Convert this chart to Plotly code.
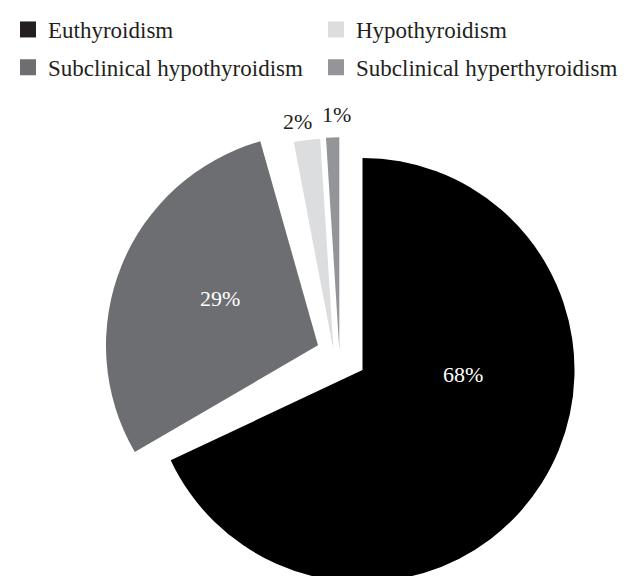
import plotly.graph_objects as go

# ---- data ----
LABELS = ["Euthyroidism", "Subclinical hypothyroidism", "Hypothyroidism", "Subclinical hyperthyroidism"]
VALUES = [68, 29, 2, 1]
COLORS = ["#000000", "#6d6e71", "#dcdddf", "#939598"]
LEGEND_ORDER = ["Euthyroidism", "Hypothyroidism", "Subclinical hypothyroidism", "Subclinical hyperthyroidism"]
LEGEND_COLORS = ["#231f20", "#dcdddf", "#6d6e71", "#939598"]

# ---- layout / style ----
W, H = 630, 576
OFF = 8  # page body margin: screen px = figure px + OFF
FONT = "Liberation Serif"
TXT = "#231f20"
# exploded slice placement in screen px: (vertex x, vertex y, radius, rotation deg)
SLICE_GEOM = [
    (362.5, 367.0, 215, 0),
    (318.0, 342.0, 215, -5),
    (333.5, 347.0, 215, 0),
    (339.3, 346.0, 215, 0),
]
# label placement (screen px) and colour per slice
LABEL_POS = [(462.7, 372.0), (220.0, 294.0), (297.5, 115.0), (336.0, 107.5)]
LABEL_COL = ["#ffffff", "#ffffff", TXT, TXT]
# legend entry placement in screen px: (legend left x, centre y)
LEGEND_POS = [(0, 21.5), (316, 21.5), (0, 59.9), (316, 59.9)]


def clamp(v):
    return max(0.0, min(1.0, v))


def domain(cx, cy, r):
    cx -= OFF
    cy -= OFF
    return dict(
        x=[clamp((cx - r) / W), clamp((cx + r) / W)],
        y=[clamp((H - cy - r) / H), clamp((H - cy + r) / H)],
    )


fig = go.Figure()

for i, (cx, cy, r, rot) in enumerate(SLICE_GEOM):
    cols = [COLORS[j] if j == i else "rgba(0,0,0,0)" for j in range(len(VALUES))]
    fig.add_trace(go.Pie(
        labels=LABELS, values=VALUES, sort=False, direction="clockwise",
        rotation=rot, domain=domain(cx, cy, r),
        marker=dict(colors=cols, line=dict(width=0)),
        textinfo="none", showlegend=False, hoverinfo="skip",
    ))

annotations = []
for i, v in enumerate(VALUES):
    x, y = LABEL_POS[i]
    annotations.append(dict(
        x=(x - OFF) / W, y=1 - (y - OFF) / H, xref="paper", yref="paper",
        text=f"{v}%", showarrow=False, xanchor="center", yanchor="middle",
        font=dict(family=FONT, size=22, color=LABEL_COL[i]),
    ))

legends = {}
for k, name in enumerate(LEGEND_ORDER):
    lname = "legend" if k == 0 else f"legend{k + 1}"
    fig.add_trace(go.Scatter(
        x=[None], y=[None], mode="markers", name=name,
        marker=dict(symbol="square", size=16, color=LEGEND_COLORS[k]),
        showlegend=True, legend=lname,
    ))
    lx, ly = LEGEND_POS[k]
    legends[lname] = dict(
        x=max(0, lx - OFF) / W, y=1 - (ly - OFF) / H, xanchor="left", yanchor="middle",
        orientation="h", bgcolor="rgba(0,0,0,0)", borderwidth=0,
        itemwidth=30, font=dict(family=FONT, size=23, color=TXT),
    )

fig.update_layout(
    width=W, height=H,
    margin=dict(l=0, r=0, t=0, b=0),
    paper_bgcolor="white", plot_bgcolor="white",
    xaxis=dict(visible=False), yaxis=dict(visible=False),
    annotations=annotations,
    **legends,
)

fig.write_html("out.html")
